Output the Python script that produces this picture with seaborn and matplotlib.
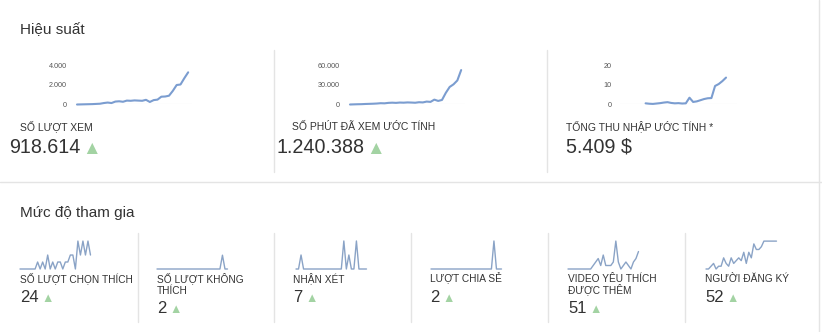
import numpy as np
import pandas as pd
import seaborn as sns
import matplotlib.pyplot as plt
from matplotlib.lines import Line2D
from matplotlib.ticker import FuncFormatter

# ---------------- data ----------------
views = [0, 10, 20, 30, 40, 60, 80, 150, 200, 150, 300, 330, 280, 400, 380,
         420, 400, 380, 480, 260, 450, 500, 800, 820, 900, 1400, 2000, 2050, 2700, 3300]
minutes = [0, 200, 400, 500, 800, 1000, 1200, 1500, 2000, 1800, 2500, 2800, 2500, 3000, 2800,
           3200, 3000, 2700, 3500, 3200, 4500, 4000, 7500, 5500, 7000, 18000, 27000, 31000, 37000, 53000]
revenue = [np.nan] * 7 + [0.6, 0.4, 0.3, 0.5, 0.7, 1.0, 1.2, 0.8, 0.6, 0.7, 0.5, 0.6,
                          3.5, 1.3, 1.6, 2.2, 2.8, 3.2, 3.3, 9.5, 10.5, 12.0, 13.8]

likes = [0, 0, 0, 0, 0, 0, 0, 1, 0, 1, 0, 2, 0, 1, 0, 1, 1, 0, 1, 1, 2, 2, 0, 4, 2, 4, 2, 4, 2]
dislikes = [0] * 26 + [1, 0, 0]
comments = [0, 0, 1, 0, 0, 0, 0, 0, 0, 0, 0, 0, 0, 0, 0, 0, 0, 0, 0, 2, 0, 1, 0, 0, 2, 0, 0, 0, 0]
shares = [0] * 25 + [2, 0, 0, 0]
favorites = [0, 0, 0, 0, 0, 0, 0, 0, 0, 0, 1, 2, 3, 1, 4, 1, 1, 1, 2, 8, 2, 0, 1, 2, 1, 0, 2, 3, 5]
subscribers = [0, 0, 1, 2, 0, 1, 1, 4, 2, 1, 4, 2, 3, 4, 3, 6, 2, 6, 4, 9, 7, 7, 8, 10, 10, 10, 10, 10, 10]

top_titles = ["SỐ LƯỢT XEM", "SỐ PHÚT ĐÃ XEM ƯỚC TÍNH", "TỔNG THU NHẬP ƯỚC TÍNH *"]
top_values = ["918.614", "1.240.388", "5.409 $"]
top_series = [views, minutes, revenue]
top_ticks = [[0, 2000, 4000], [0, 30000, 60000], [0, 10, 20]]

bot_titles = ["SỐ LƯỢT CHỌN THÍCH", "SỐ LƯỢT KHÔNG\nTHÍCH", "NHẬN XÉT", "LƯỢT CHIA SẺ",
              "VIDEO YÊU THÍCH\nĐƯỢC THÊM", "NGƯỜI ĐĂNG KÝ"]
bot_values = ["24", "2", "7", "2", "51", "52"]
bot_series = [likes, dislikes, comments, shares, favorites, subscribers]
bot_ymax = [4.15, 2.1, 2.07, 2.07, 8.3, 10.4]

# ---------------- style ----------------
sns.set_theme(style="white")
plt.rcParams['font.family'] = ['Liberation Sans', 'DejaVu Sans']

W, H = 822, 332
fig = plt.figure(figsize=(W / 100, H / 100), dpi=100)
fig.patch.set_facecolor('white')

TXT = '#333333'
SEP = '#e4e4e4'
GREEN = '#a3d3a3'
TOPLINE = '#7b9dd0'
BOTLINE = '#8aa3c6'


def ax_px(x0, y_top, w, h):
    return fig.add_axes([x0 / W, 1 - (y_top + h) / H, w / W, h / H])


def ftext(x, y, s, **kw):
    return fig.text(x / W, 1 - y / H, s, va='baseline', ha='left', **kw)


def vline(x, y0, y1):
    fig.add_artist(Line2D([x / W, x / W], [1 - y0 / H, 1 - y1 / H],
                          transform=fig.transFigure, color=SEP, lw=1))


def hline(y, x0, x1):
    fig.add_artist(Line2D([x0 / W, x1 / W], [1 - y / H, 1 - y / H],
                          transform=fig.transFigure, color=SEP, lw=1))


def fmt_dot(v, pos):
    return f"{int(v):,}".replace(",", ".")


# ---------------- top section ----------------
ftext(20, 34, "Hiệu suất", fontsize=11, color=TXT)

top_ax_left = [77, 350, 620]
top_ax_w = [115, 115, 117]
top_xmax = [30, 30, 32]
top_pad = [7.2, 7.2, 5.8]
for i in range(3):
    ax = ax_px(top_ax_left[i], 65.5, top_ax_w[i], 39)
    df = pd.DataFrame({"day": np.arange(len(top_series[i])), "value": top_series[i]})
    sns.lineplot(data=df, x="day", y="value", ax=ax, color=TOPLINE, lw=1.5)
    for ln in ax.lines:
        ln.set_clip_on(False)
    ax.axhline(0, color='#dcdcdc', lw=0.8, zorder=0)
    ax.set_xlim(0, top_xmax[i])
    ax.set_ylim(0, top_ticks[i][-1])
    ax.set_yticks(top_ticks[i])
    ax.yaxis.set_major_formatter(FuncFormatter(fmt_dot))
    ax.set_xticks([])
    ax.tick_params(axis='y', labelsize=5.2, colors='#555555', length=0, pad=top_pad[i])
    ax.set_xlabel("")
    ax.set_ylabel("")
    for s in ax.spines.values():
        s.set_visible(False)
    ax.patch.set_alpha(0)

label_x = [20, 292, 566]
value_x = [9, 276, 566]
tri_x = [82, 366, None]
for i in range(3):
    ftext(label_x[i], 130, top_titles[i], fontsize=7.5, color=TXT)
    ftext(value_x[i], 153, top_values[i], fontsize=14.2, color=TXT)
    if tri_x[i] is not None:
        ftext(tri_x[i], 153.5, "▲", fontsize=13.5, color=GREEN)

vline(273.5, 50, 172)
vline(546.5, 50, 172)
hline(181.5, 0, W)
vline(818.5, 0, H)

# ---------------- bottom section ----------------
ftext(20, 217, "Mức độ tham gia", fontsize=11, color=TXT)

bx = [20, 157, 296, 431, 568, 706]
for i in range(6):
    ax = ax_px(bx[i], 240, 72, 29)
    df = pd.DataFrame({"day": np.arange(len(bot_series[i])), "value": bot_series[i]})
    sns.lineplot(data=df, x="day", y="value", ax=ax, color=BOTLINE, lw=1.0)
    for ln in ax.lines:
        ln.set_clip_on(False)
    ax.set_xlim(0, 28.6)
    ax.set_ylim(0, bot_ymax[i])
    ax.set_xticks([])
    ax.set_yticks([])
    ax.set_xlabel("")
    ax.set_ylabel("")
    for s in ax.spines.values():
        s.set_visible(False)
    ax.patch.set_alpha(0)

blabel_x = [20, 157, 293, 430, 568, 705]
for i in range(6):
    two = "\n" in bot_titles[i]
    ftext(blabel_x[i], 282.5, bot_titles[i].split("\n")[0], fontsize=7.3, color=TXT)
    if two:
        ftext(blabel_x[i], 293.5, bot_titles[i].split("\n")[1], fontsize=7.3, color=TXT)
    vy = 313 if two else 302.5
    ftext(blabel_x[i], vy, bot_values[i], fontsize=12, color=TXT)
    tw = 9.3 * len(bot_values[i])
    ftext(blabel_x[i] + tw + 3, vy, "▲", fontsize=9, color=GREEN)

for x in [137.5, 273.5, 410.5, 547.5, 684.5]:
    vline(x, 233, 322)

fig.savefig("out.png", dpi=100, facecolor='white')
